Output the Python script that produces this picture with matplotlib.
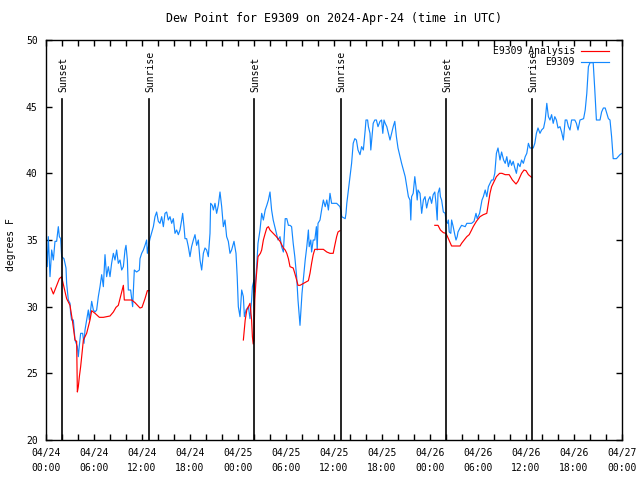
import matplotlib
matplotlib.use("Agg")
import matplotlib.pyplot as plt
from matplotlib.ticker import MultipleLocator

# hours since 04/24 00:00 UTC
blue_hours = [0.0, 0.15, 0.29, 0.5, 0.71, 0.92, 1.125, 1.33, 1.54, 1.67, 1.83, 1.96, 2.25, 2.5, 2.58, 2.79,
              3.0, 3.08, 3.2, 3.42, 3.625, 3.92, 4.04, 4.17, 4.33, 4.58, 4.75, 4.875, 5.08, 5.29, 5.42, 5.58,
              5.71, 5.92, 6.125, 6.33, 6.54, 6.75, 6.96, 7.17, 7.375, 7.58, 7.79, 8.0, 8.2, 8.42, 8.625, 8.83,
              9.04, 9.25, 9.46, 9.67, 9.875, 10.0, 10.17, 10.29, 10.58, 10.83, 11.04, 11.33, 11.67, 11.75,
              11.96, 12.17, 12.375, 12.58, 12.67, 12.875, 13.0, 13.42, 13.625, 13.83, 14.04, 14.25, 14.46,
              14.67, 14.875, 15.08, 15.29, 15.5, 15.71, 15.92, 16.125, 16.33, 16.54, 16.75, 16.96, 17.08,
              17.25, 17.375, 17.58, 17.79, 18.0, 18.2, 18.42, 18.625, 18.83, 19.04, 19.25, 19.46, 19.67,
              19.875, 20.08, 20.29, 20.5, 20.58, 20.79, 20.92, 21.125, 21.33, 21.54, 21.75, 21.96, 22.17,
              22.375, 22.58, 22.79, 23.0, 23.2, 23.5, 23.75, 23.9, 24.04, 24.25, 24.46, 24.67, 24.8, 25.0,
              25.3, 25.5, 25.7, 25.8, 26.0, 26.1, 26.33, 26.5, 26.75, 26.96, 27.17, 27.4, 27.6, 27.8, 28.0,
              28.2, 28.4, 28.8, 29.0, 29.25, 29.45, 29.67, 29.9, 30.1, 30.3, 30.5, 30.7, 30.9, 31.1, 31.33,
              31.5, 31.67, 31.75, 31.9, 32.0, 32.2, 32.4, 32.6, 32.8, 32.9, 33.1, 33.2, 33.4, 33.6, 33.8,
              33.9, 34.0, 34.25, 34.45, 34.67, 34.9, 35.1, 35.3, 35.5, 35.7, 36.33, 36.75, 36.9, 36.96,
              37.4, 37.5, 37.6, 37.8, 38.0, 38.2, 38.4, 38.6, 38.8, 39.0, 39.25, 39.45, 39.67, 39.9, 40.0,
              40.2, 40.3, 40.5, 40.6, 40.7, 40.9, 41.1, 41.3, 41.5, 41.75, 41.95, 42.1, 42.25, 42.4, 42.6,
              42.8, 43.0, 43.2, 43.4, 43.6, 43.8, 44.0, 44.25, 44.45, 44.67, 44.9, 45.1, 45.3, 45.5, 45.6,
              45.7, 45.9, 46.1, 46.25, 46.4, 46.5, 46.75, 46.96, 47.17, 47.38, 47.58, 47.8, 48.0, 48.2,
              48.4, 48.6, 48.75, 48.9, 49.0, 49.2, 49.3, 49.45, 49.67, 49.9, 50.0, 50.2, 50.3, 50.4, 50.6,
              50.7, 50.9, 51.1, 51.25, 51.4, 51.5, 51.75, 51.95, 52.4, 52.6, 53.2, 53.5, 53.75, 53.9, 54.2,
              54.5, 54.67, 54.9, 55.1, 55.3, 55.5, 55.7, 55.9, 56.1, 56.3, 56.5, 56.75, 56.95, 57.2, 57.4,
              57.6, 57.8, 58.0, 58.2, 58.4, 58.6, 58.8, 59.0, 59.25, 59.45, 59.67, 59.9, 60.1, 60.3, 60.5,
              60.9, 61.1, 61.3, 61.5, 61.75, 61.95, 62.2, 62.4, 62.6, 62.8, 63.0, 63.2, 63.4, 63.6, 63.8,
              64.0, 64.25, 64.45, 64.67, 64.75, 64.9, 65.1, 65.3, 65.5, 65.7, 66.1, 66.3, 66.5, 66.75, 67.2,
              67.4, 67.6, 67.8, 68.0, 68.4, 68.6, 68.8, 69.25, 69.45, 69.67, 69.9, 70.1, 70.3, 70.5, 70.7,
              70.9, 71.3, 71.75, 72.0]
blue_vals = [35.0, 33.0, 35.25, 32.25, 34.25, 33.5, 34.9, 34.9, 36.0, 35.25, 35.1, 33.75, 33.6, 32.9, 31.75, 30.5,
             30.25, 29.5, 29.0, 29.0, 27.5, 27.0, 26.25, 27.1, 28.0, 28.0, 27.25, 28.25, 29.0, 29.75, 29.0, 29.75,
             30.4, 29.75, 29.6, 29.75, 30.75, 31.5, 32.4, 31.5, 33.9, 32.25, 33.0, 32.25, 33.25, 34.0, 33.5, 34.25,
             33.25, 33.5, 32.75, 33.0, 34.25, 34.6, 33.5, 31.25, 31.25, 30.0, 32.75, 32.6, 32.75, 33.6,
             34.0, 34.25, 34.6, 35.0, 34.0, 34.75, 35.1, 36.0, 36.75, 37.1, 36.4, 36.25, 36.75,
             36.0, 37.0, 37.1, 36.5, 36.75, 36.25, 36.6, 35.5, 35.75, 35.4, 35.75, 36.5, 37.0,
             36.0, 35.1, 35.1, 34.5, 33.75, 34.5, 35.0, 35.4, 34.6, 35.0, 33.5, 32.75, 34.0,
             34.4, 34.25, 33.75, 35.5, 37.75, 37.6, 37.25, 37.75, 37.0, 37.6, 38.6, 37.5, 36.0,
             36.5, 35.25, 34.9, 34.0, 34.25, 34.9, 34.0, 32.25, 30.0, 29.25, 31.25, 30.75, 29.25, 29.75,
             30.0, 29.1, 30.5, 31.5, 32.0, 31.1, 33.0, 34.75, 35.75, 37.0, 36.5, 37.25, 37.6, 38.0, 38.6,
             37.25, 36.5, 35.5, 35.0, 35.25, 34.5, 34.1, 36.6, 36.6, 36.1, 36.1, 36.0, 34.75, 33.75, 32.25,
             30.5, 29.25, 28.6, 30.0, 31.0, 32.25, 33.5, 34.5, 35.75, 34.5, 35.0, 34.1, 35.0, 35.0, 36.0,
             34.25, 36.25, 36.5, 37.25, 38.0, 37.5, 38.0, 37.25, 38.5, 37.75, 37.75, 37.5, 37.1, 36.75,
             36.6, 37.0, 37.75, 38.75, 39.75, 40.75, 42.25, 42.6, 42.5, 41.75, 41.4, 42.0, 41.75, 43.25, 44.0,
             44.0, 43.5, 43.0, 41.75, 42.4, 43.75, 44.0, 44.0, 43.5, 43.9, 44.0, 43.0, 44.0, 43.75, 43.5,
             43.0, 42.5, 43.0, 43.5, 43.9, 42.75, 41.9, 41.25, 40.75, 40.25, 39.75, 39.0, 38.25, 38.0, 36.5,
             38.25, 38.5, 39.75, 39.0, 38.0, 38.75, 38.5, 37.0, 38.0, 38.25, 37.4, 38.0, 38.25, 37.75,
             38.4, 38.6, 37.75, 36.5, 38.5, 38.9, 38.25, 38.0, 37.1, 37.0, 36.4, 36.25, 36.5, 35.6, 35.5,
             36.5, 36.0, 35.4, 35.0, 35.25, 35.6, 35.9, 36.1, 36.0, 36.25, 36.25, 36.4, 37.0, 36.6, 37.0,
             38.0, 38.25, 38.75, 38.25, 39.0, 39.25, 39.5, 39.5, 40.0, 41.5, 41.9, 41.0, 41.6, 41.0, 40.75,
             41.25, 40.5, 41.0, 40.6, 40.9, 40.4, 40.0, 40.75, 40.5, 41.0, 40.75, 41.25, 41.5, 42.25, 41.9,
             41.9, 42.25, 43.0, 43.4, 43.0, 43.25, 43.4, 44.0, 45.25, 44.25, 44.0, 44.4, 43.75, 44.25, 44.0,
             43.4, 43.5, 43.1, 42.5, 43.0, 44.0, 44.0, 43.5, 43.25, 44.0, 44.0, 43.75, 43.25, 44.0, 44.1,
             44.75, 46.0, 48.0, 48.3, 48.3, 46.25, 44.0, 44.0, 44.6, 44.9, 44.9, 44.5, 44.1, 44.0, 42.75,
             41.1, 41.1, 41.4, 41.5]

# analysis values, one segment per night
red1_hours = [0.625, 0.92, 1.67, 1.96, 2.08, 2.58, 3.0, 3.29, 3.625, 3.83, 3.92, 4.04, 4.17, 4.33, 4.46, 4.67,
              5.08, 5.5, 5.71, 6.125, 6.67, 7.17, 8.0, 8.42, 8.75, 9.04, 9.25, 9.67, 9.79, 10.71, 11.125,
              11.75, 12.0, 12.375, 12.67, 12.92]
red1_vals = [31.4, 30.95, 32.1, 32.25, 31.9, 30.6, 30.1, 29.0, 27.5, 27.4, 23.6, 24.0, 24.75, 25.5, 26.25, 27.5,
             28.0, 29.0, 29.7, 29.5, 29.2, 29.2, 29.3, 29.6, 29.95, 30.1, 30.6, 31.6, 30.5, 30.5, 30.3,
             29.9, 29.95, 30.6, 31.2, 31.2]
red2_hours = [24.67, 24.9, 25.1, 25.3, 25.5, 25.7, 25.8, 25.9, 26.0, 26.1, 26.25, 26.5, 26.8, 26.96, 27.17,
              27.4, 27.6, 27.8, 28.0, 28.4, 28.8, 29.25, 29.67, 29.9, 30.1, 30.3, 30.5, 30.9, 31.1, 31.33,
              31.5, 31.75, 32.2, 32.8, 33.0, 33.2, 33.4, 33.6, 34.67, 35.1, 35.5, 35.9, 36.1, 36.33, 36.5, 36.75]
red2_vals = [27.5, 29.0, 29.75, 30.0, 30.25, 29.0, 27.75, 27.2, 27.5, 30.5, 32.0, 33.75, 34.0, 34.25, 35.0,
             35.5, 35.9, 36.0, 35.75, 35.5, 35.25, 34.9, 34.4, 34.25, 34.0, 33.6, 33.0, 32.9, 32.5, 32.0,
             31.6, 31.6, 31.75, 31.95, 32.5, 33.25, 33.9, 34.3, 34.3, 34.1, 34.0, 34.0, 34.6, 35.25, 35.6, 35.7]
red3_hours = [48.6, 49.0, 49.3, 49.67, 50.0, 50.3, 50.7, 51.75, 51.95, 52.4, 52.6, 52.9, 53.2, 53.4, 53.8,
              54.25, 54.67, 55.1, 55.3, 55.5, 55.7, 55.9, 56.3, 56.7, 57.0, 57.4, 57.9, 58.3, 58.75, 59.0,
              59.45, 59.75, 60.0, 60.3, 60.7]
red3_vals = [36.1, 36.1, 35.75, 35.55, 35.5, 35.1, 34.55, 34.55, 34.75, 35.1, 35.25, 35.4, 35.75, 36.0, 36.4,
             36.75, 36.9, 37.0, 37.75, 38.5, 39.0, 39.25, 39.75, 40.0, 40.0, 39.9, 39.9, 39.5, 39.2, 39.4,
             40.0, 40.25, 40.2, 39.9, 39.7]

sun_hours = [2.04, 12.92, 26.04, 36.83, 50.0, 60.79]
sun_names = ["Sunset", "Sunrise", "Sunset", "Sunrise", "Sunset", "Sunrise"]

tick_hours = list(range(0, 73, 6))
tick_labels = ["04/24\n00:00", "04/24\n06:00", "04/24\n12:00", "04/24\n18:00",
               "04/25\n00:00", "04/25\n06:00", "04/25\n12:00", "04/25\n18:00",
               "04/26\n00:00", "04/26\n06:00", "04/26\n12:00", "04/26\n18:00", "04/27\n00:00"]

blue = "#1388ff"
red = "#ff0000"

plt.rcParams['font.family'] = ['DejaVu Sans Mono']
plt.rcParams['font.size'] = 7

fig = plt.figure(figsize=(6.4, 4.8), dpi=100)
ax = fig.add_axes([46/640, 40/480, 576/640, 400/480])

ax.plot(blue_hours, blue_vals, color=blue, lw=0.85)
for hh, vv in [(red1_hours, red1_vals), (red2_hours, red2_vals), (red3_hours, red3_vals)]:
    ax.plot(hh, vv, color=red, lw=0.85)

for h, name in zip(sun_hours, sun_names):
    ax.plot([h, h], [20, 45.6], color="black", lw=1.2)
    ax.text(h + 0.15, 46.1, name, rotation=90, ha="center", va="bottom")

ax.set_xlim(0, 72)
ax.set_ylim(20, 50)
ax.set_xticks(tick_hours)
ax.set_xticklabels(tick_labels, linespacing=1.55)
ax.xaxis.set_minor_locator(MultipleLocator(2))
ax.set_yticks(range(20, 51, 5))
ax.tick_params(which="both", direction="in", top=True, right=True, length=4, width=1, pad=6)
for s in ax.spines.values():
    s.set_linewidth(1)

ax.set_title("Dew Point for E9309 on 2024-Apr-24 (time in UTC)", pad=13)
fig.text(11/640, 1 - 245/480, "degrees F", rotation=90, ha="center", va="center")

# legend drawn by hand, text right aligned like gnuplot
ax.text(0.918, 0.973, "E9309 Analysis", transform=ax.transAxes, ha="right", va="center")
ax.plot([0.928, 0.977], [0.973, 0.973], transform=ax.transAxes, color=red, lw=0.85)
ax.text(0.918, 0.944, "E9309", transform=ax.transAxes, ha="right", va="center")
ax.plot([0.928, 0.977], [0.944, 0.944], transform=ax.transAxes, color=blue, lw=0.85)

fig.savefig("out.png", dpi=100)
